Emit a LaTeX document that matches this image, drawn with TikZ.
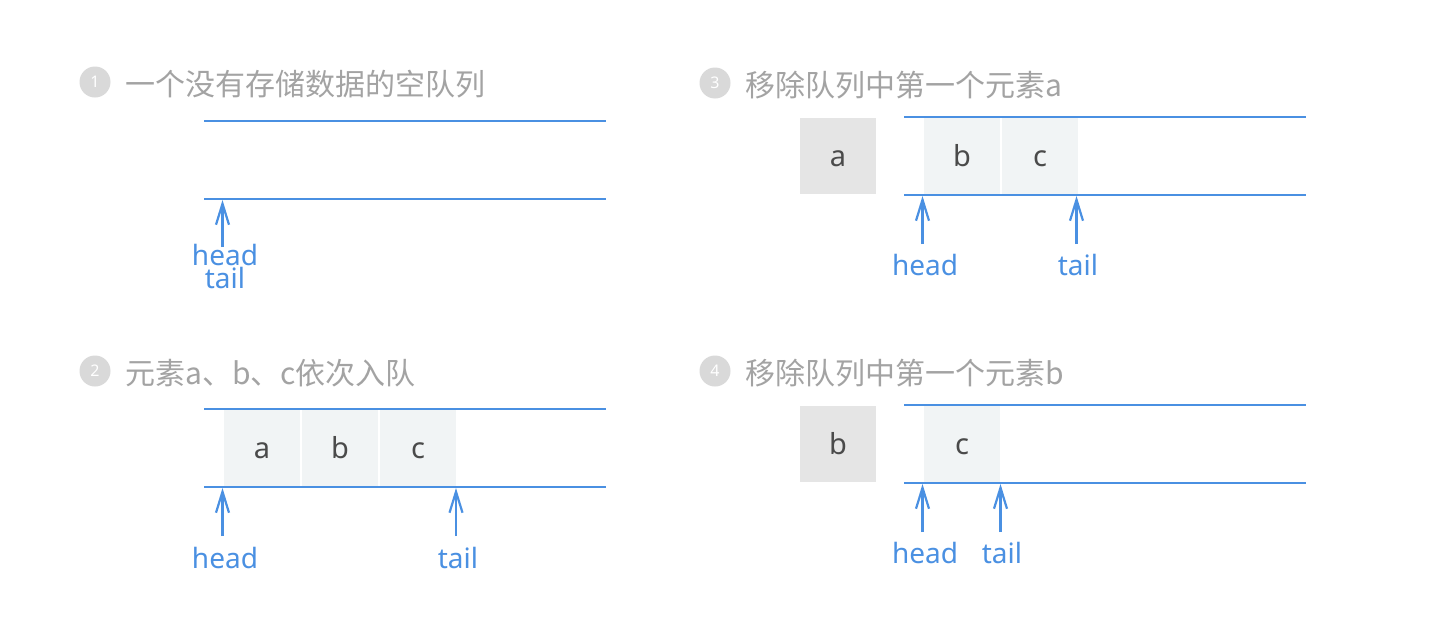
\documentclass[tikz,border=0pt]{standalone}
\usepackage{fontspec}
\setmainfont{Noto Sans}
\newfontfamily\cjk{Noto Sans CJK SC}
\usetikzlibrary{arrows.meta}
\definecolor{qblue}{HTML}{4A90E2}
\definecolor{qgray}{HTML}{A3A3A3}
\definecolor{qcirc}{HTML}{D9D9D9}
\definecolor{qcell}{HTML}{F1F4F5}
\definecolor{qgone}{HTML}{E5E5E5}
\definecolor{qtext}{HTML}{4A4A4A}
\begin{document}
\begin{tikzpicture}[x=1pt,y=-1pt,
  qline/.style={draw=qblue,line width=2.2pt},
  ptr/.style={draw=qblue,line width=2.2pt,-{Straight Barb[length=21pt,width=13pt,line width=2.2pt]}},
  badge/.style={circle,fill=qcirc,minimum size=31pt,inner sep=0pt,text=white,font=\fontsize{16}{16}\selectfont},
  ttl/.style={anchor=base west,inner sep=0pt,text=qgray,font=\cjk\fontsize{30}{30}\selectfont},
  cell/.style={fill=qcell,minimum width=76pt,minimum height=76pt,inner sep=0pt,text height=21pt,text depth=0pt,text=qtext,font=\fontsize{29}{29}\selectfont},
  gone/.style={cell,fill=qgone},
  lbl/.style={anchor=base,inner sep=0pt,text=qblue,font=\fontsize{28}{28}\selectfont}]
\useasboundingbox (0,0) rectangle (1434,624);
\fill[white] (0,0) rectangle (1434,624);

% ---------- panel 1 ----------
\node[badge] (b1) at (95,82) {1};
\node[ttl] (t1) at (125,95) {一个没有存储数据的空队列};
\draw[qline] (204,121) -- (606,121);
\draw[qline] (204,199) -- (606,199);
\coordinate (p1tip) at (222.5,200);
\coordinate (p1end) at (222.5,247);
\draw[ptr] (p1end) -- (p1tip);
\node[lbl,anchor=north,align=center,font=\fontsize{28}{23}\selectfont] (p1ht) at (225,244) {head\\tail};

% ---------- panel 2 ----------
\node[badge] (b2) at (95,371) {2};
\node[ttl] (t2) at (125,384) {元素a、b、c依次入队};
\node[cell] (c2a) at (262,448) {a};
\node[cell] (c2b) at (340,448) {b};
\node[cell] (c2c) at (418,448) {c};
\draw[qline] (204,409) -- (606,409);
\draw[qline] (204,487) -- (606,487);
\coordinate (p2htip) at (222.5,488);
\coordinate (p2hend) at (222.5,536);
\draw[ptr] (p2hend) -- (p2htip);
\coordinate (p2ttip) at (456,488);
\coordinate (p2tend) at (456,536);
\draw[ptr] (p2tend) -- (p2ttip);
\node[lbl] (p2h) at (225,568) {head};
\node[lbl] (p2t) at (458,568) {tail};

% ---------- panel 3 ----------
\node[badge] (b3) at (715,83) {3};
\node[ttl] (t3) at (745,96) {移除队列中第一个元素a};
\node[gone] (g3) at (838,156) {a};
\node[cell] (c3b) at (962,156) {b};
\node[cell] (c3c) at (1040,156) {c};
\draw[qline] (904,117) -- (1306,117);
\draw[qline] (904,195) -- (1306,195);
\coordinate (p3htip) at (922.5,196);
\coordinate (p3hend) at (922.5,244);
\draw[ptr] (p3hend) -- (p3htip);
\coordinate (p3ttip) at (1076.5,196);
\coordinate (p3tend) at (1076.5,244);
\draw[ptr] (p3tend) -- (p3ttip);
\node[lbl] (p3h) at (925,275) {head};
\node[lbl] (p3t) at (1078,275) {tail};

% ---------- panel 4 ----------
\node[badge] (b4) at (715,371) {4};
\node[ttl] (t4) at (745,384) {移除队列中第一个元素b};
\node[gone] (g4) at (838,444) {b};
\node[cell] (c4c) at (962,444) {c};
\draw[qline] (904,405) -- (1306,405);
\draw[qline] (904,483) -- (1306,483);
\coordinate (p4htip) at (922.5,484);
\coordinate (p4hend) at (922.5,532);
\draw[ptr] (p4hend) -- (p4htip);
\coordinate (p4ttip) at (1000.5,484);
\coordinate (p4tend) at (1000.5,532);
\draw[ptr] (p4tend) -- (p4ttip);
\node[lbl] (p4h) at (925,563) {head};
\node[lbl] (p4t) at (1002,563) {tail};
\end{tikzpicture}
\end{document}
